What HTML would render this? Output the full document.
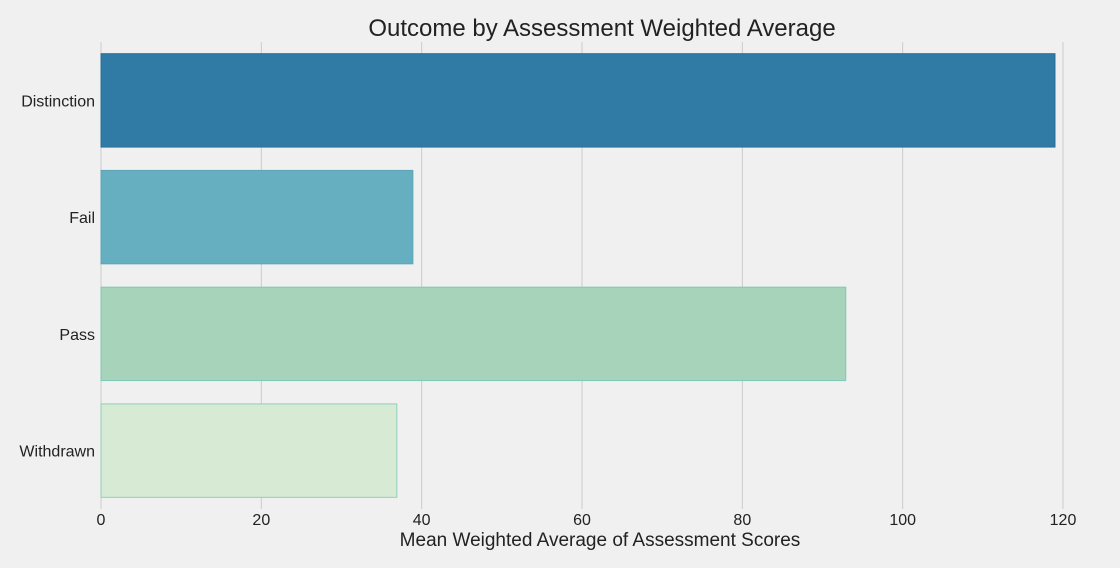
<!DOCTYPE html>
<html><head><meta charset="utf-8"><style>
html,body{margin:0;padding:0;background:#f0f0f0;font-family:"Liberation Sans",sans-serif;overflow:hidden;}
svg{display:block;}
</style></head><body>
<svg width="1120" height="568" xmlns="http://www.w3.org/2000/svg">
<rect width="1120" height="568" fill="#f0f0f0"/>
<text x="602" y="36" font-size="24" text-anchor="middle" fill="#222">Outcome by Assessment Weighted Average</text>
<g id="grid"></g>
<g id="bars"></g>
<g id="ylabels"></g>
<g id="xticks"></g>
<text x="600" y="546" font-size="19" text-anchor="middle" fill="#222">Mean Weighted Average of Assessment Scores</text>
</svg>
<script>
const categories=["Distinction","Fail","Pass","Withdrawn"];
const values=[119.0,38.9,92.9,36.9];
const xTicks=[0,20,40,60,80,100,120];
const fills=["#2f7ba6","#66afc0","#a6d3ba","#d7ebd4"];
const strokes=["#2b6f96","#5da3b4","#7cc9b8","#8fcfb8"];
const NS="http://www.w3.org/2000/svg";
const x0=101,x1=1063,xmax=120,plotTop=42,plotBottom=509;
const xs=v=>x0+(x1-x0)*v/xmax;
const band=(plotBottom-plotTop)/categories.length;
function mk(t,a,p){const e=document.createElementNS(NS,t);for(const k in a)e.setAttribute(k,a[k]);p.appendChild(e);return e;}
const grid=document.getElementById('grid'),bars=document.getElementById('bars'),yl=document.getElementById('ylabels'),xt=document.getElementById('xticks');
xTicks.forEach(t=>{
 const l=mk('line',{x1:xs(t),x2:xs(t),y1:plotTop,y2:plotBottom,stroke:'#cbcbcb','stroke-width':1},grid);
 
 
 const tx=mk('text',{x:xs(t),y:525,'font-size':16,'text-anchor':'middle',fill:'#222'},xt);
 tx.textContent=t;
 
 
});
categories.forEach((c,i)=>{
 const cy=plotTop+band*(i+0.5),h=band*0.8;
 const r=mk('rect',{x:x0,y:cy-h/2,width:xs(values[i])-x0,height:h,fill:fills[i],stroke:strokes[i],'stroke-width':1},bars);
 
 
 const t=mk('text',{x:95,y:cy+6,'font-size':16,'text-anchor':'end',fill:'#222'},yl);
 t.textContent=c;
 
 
});
</script>
</body></html>
